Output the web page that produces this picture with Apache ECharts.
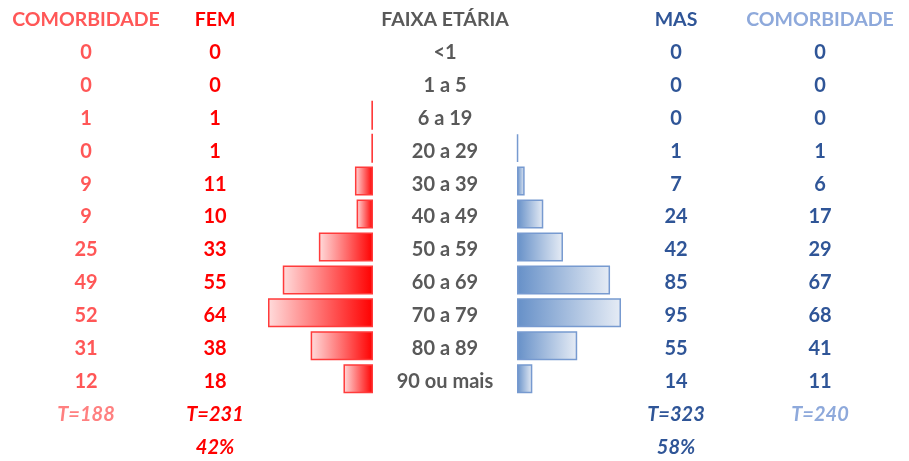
<!DOCTYPE html>
<html>
<head>
<meta charset="utf-8">
<script src="https://cdn.jsdelivr.net/npm/echarts@6/dist/echarts.min.js"></script>
<style>
html,body{margin:0;padding:0;background:#fff;}
#c{width:909px;height:461px;}
</style>
</head>
<body>
<div id="c"></div>
<script>
const categories = ['<1','1 a 5','6 a 19','20 a 29','30 a 39','40 a 49','50 a 59','60 a 69','70 a 79','80 a 89','90 ou mais'];
const femComorb = [0,0,1,0,9,9,25,49,52,31,12];
const fem = [0,0,1,1,11,10,33,55,64,38,18];
const mas = [0,0,0,1,7,24,42,85,95,55,14];
const masComorb = [0,0,0,1,6,17,29,67,68,41,11];
const headers = ['COMORBIDADE','FEM','FAIXA ETÁRIA','MAS','COMORBIDADE'];

const sum = a => a.reduce((s,v)=>s+v,0);
const totFem = sum(fem), totMas = sum(mas);
const pctFem = Math.round(totFem/(totFem+totMas)*100) + '%';
const pctMas = Math.round(totMas/(totFem+totMas)*100) + '%';

function rows(header, vals, total, pct){
  return [header].concat(vals.map(String), [total, pct]);
}
const rowsFemCom = rows(headers[0], femComorb, 'T=' + sum(femComorb), '');
const rowsFem = rows(headers[1], fem, 'T=' + totFem, pctFem);
const rowsAge = rows(headers[2], categories, '', '');
const rowsMas = rows(headers[3], mas, 'T=' + totMas, pctMas);
const rowsMasCom = rows(headers[4], masComorb, 'T=' + sum(masComorb), '');

const ids = rowsAge.map((_, i) => 'r' + i);
const barRows = vals => [null].concat(vals.map(v => v === 0 ? '-' : v), [null, null]);

const FONT = 'Lato';
function labelAxis(gridIndex, position, margin, rowsArr, colors){
  return {
    type: 'category', gridIndex, position, inverse: true, data: ids,
    axisLine: {show: false, onZero: false}, axisTick: {show: false}, splitLine: {show: false},
    axisLabel: {
      interval: 0, margin, align: 'center',
      formatter: (v, i) => {
        const key = i === 0 ? 'h' : (i <= categories.length ? 'v' : (i === categories.length + 1 ? 't' : 'p'));
        return rowsArr[i] === '' ? '' : '{' + key + '|' + rowsArr[i] + '}';
      },
      rich: {
        h: {color: colors.h, fontFamily: FONT, fontWeight: 'bold', fontSize: 19.5, padding: [6,0,0,0]},
        v: {color: colors.v, fontFamily: FONT, fontWeight: 'bold', fontSize: 20, padding: [6,0,0,0]},
        t: {color: colors.t, fontFamily: FONT, fontWeight: 'bold', fontStyle: 'italic', fontSize: 20, padding: [6,0,0,0]},
        p: {color: colors.p, fontFamily: FONT, fontWeight: 'bold', fontStyle: 'italic', fontSize: 20, padding: [6,0,0,0]}
      }
    }
  };
}

const chart = echarts.init(document.getElementById('c'), null, {renderer: 'canvas'});
chart.setOption({
  animation: false,
  backgroundColor: '#fff',
  grid: [
    {left: 268, right: 909 - 373, top: 0, height: 462},
    {left: 517, right: 909 - 621, top: 0, height: 462}
  ],
  xAxis: [
    {type: 'value', gridIndex: 0, inverse: true, min: 0, max: Math.max(...fem), show: false},
    {type: 'value', gridIndex: 1, min: 0, max: Math.max(...mas), show: false}
  ],
  yAxis: [
    labelAxis(0, 'right', 72, rowsAge, {h:'#595959', v:'#595959', t:'#595959', p:'#595959'}),
    labelAxis(0, 'left', 53, rowsFem, {h:'#FF0000', v:'#FF0000', t:'#FF0000', p:'#FF0000'}),
    labelAxis(0, 'left', 182, rowsFemCom, {h:'#FF5757', v:'#FF5757', t:'#FF8080', p:'#FF8080'}),
    labelAxis(1, 'right', 55, rowsMas, {h:'#2F5597', v:'#2F5597', t:'#2F5597', p:'#2F5597'}),
    labelAxis(1, 'right', 199, rowsMasCom, {h:'#8EA9DB', v:'#2F5597', t:'#8EA9DB', p:'#8EA9DB'})
  ],
  series: [
    {
      type: 'bar', xAxisIndex: 0, yAxisIndex: 0, data: barRows(fem), barCategoryGap: '12%',
      itemStyle: {
        color: new echarts.graphic.LinearGradient(0, 0, 1, 0, [{offset: 0, color: '#FFDCDC'}, {offset: 1, color: '#FF0000'}]),
        borderColor: '#FF3B3B', borderWidth: 1.5
      }
    },
    {
      type: 'bar', xAxisIndex: 1, yAxisIndex: 3, data: barRows(mas), barCategoryGap: '12%',
      itemStyle: {
        color: new echarts.graphic.LinearGradient(0, 0, 1, 0, [{offset: 0, color: '#6690C8'}, {offset: 1, color: '#E6ECF5'}]),
        borderColor: '#779AD0', borderWidth: 1.5
      }
    }
  ]
});
</script>
</body>
</html>
